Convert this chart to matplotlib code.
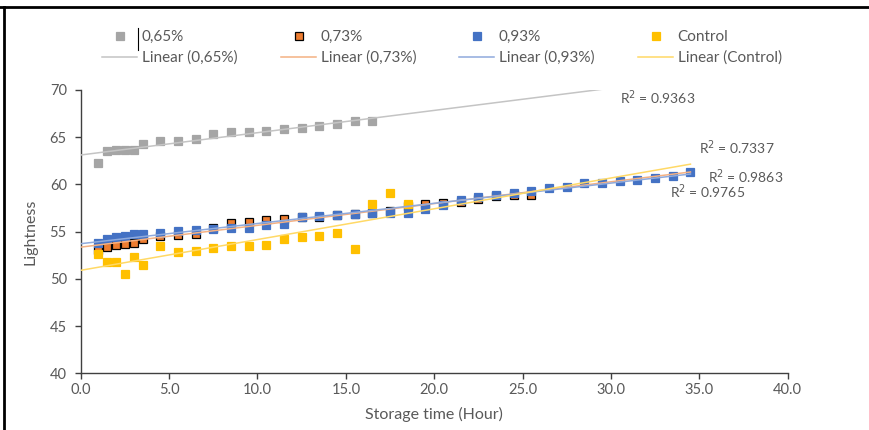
import numpy as np
import matplotlib
matplotlib.use("Agg")
import matplotlib.pyplot as plt
from matplotlib.lines import Line2D
from matplotlib.ticker import FormatStrFormatter, MultipleLocator

plt.rcParams['font.family'] = ['Lato', 'DejaVu Sans']

# storage time (hour) and lightness
x_065 = [1.0, 1.5, 2.0, 2.5, 3.0, 3.5, 4.5, 5.5, 6.5, 7.5, 8.5, 9.5, 10.5, 11.5,
         12.5, 13.5, 14.5, 15.5, 16.5]
y_065 = [62.3, 63.5, 63.6, 63.6, 63.6, 64.3, 64.6, 64.6, 64.8, 65.3, 65.5, 65.55,
         65.65, 65.85, 65.95, 66.2, 66.35, 66.7, 66.7]

x_073 = [1.0, 1.5, 2.0, 2.5, 3.0, 3.5, 4.5, 5.5, 6.5, 7.5, 8.5, 9.5, 10.5, 11.5,
         12.5, 13.5, 14.5, 15.5, 16.5, 17.5, 18.5, 19.5, 20.5, 21.5, 22.5, 23.5,
         24.5, 25.5]
y_073 = [53.1, 53.4, 53.55, 53.7, 53.8, 54.2, 54.55, 54.6, 54.75, 55.35, 55.95,
         56.05, 56.2, 56.3, 56.5, 56.6, 56.8, 56.9, 57.0, 57.2, 57.7, 57.9, 58.0,
         58.1, 58.5, 58.8, 58.9, 58.9]

x_093 = [1.0, 1.5, 2.0, 2.5, 3.0, 3.5, 4.5, 5.5, 6.5, 7.5, 8.5, 9.5, 10.5, 11.5,
         12.5, 13.5, 14.5, 15.5, 16.5, 17.5, 18.5, 19.5, 20.5, 21.5, 22.5, 23.5,
         24.5, 25.5, 26.5, 27.5, 28.5, 29.5, 30.5, 31.5, 32.5, 33.5, 34.5]
y_093 = [53.8, 54.2, 54.4, 54.5, 54.7, 54.8, 54.9, 55.1, 55.2, 55.3, 55.4, 55.4,
         55.7, 55.8, 56.5, 56.7, 56.8, 56.9, 57.0, 57.0, 57.0, 57.35, 57.8, 58.3,
         58.7, 58.9, 59.1, 59.3, 59.6, 59.75, 60.1, 60.2, 60.35, 60.5, 60.7, 60.9,
         61.3]

x_ctrl = [1.0, 1.5, 2.0, 2.5, 3.0, 3.5, 4.5, 5.5, 6.5, 7.5, 8.5, 9.5, 10.5, 11.5,
          12.5, 13.5, 14.5, 15.5, 16.5, 17.5, 18.5]
y_ctrl = [52.6, 51.8, 51.8, 50.5, 52.3, 51.45, 53.5, 52.8, 52.9, 53.3, 53.5, 53.5,
          53.6, 54.2, 54.4, 54.55, 54.85, 53.2, 57.9, 59.05, 57.9]

names = ["0,65%", "0,73%", "0,93%", "Control"]
r2_text = ["R$^2$ = 0.9363", "R$^2$ = 0.9765", "R$^2$ = 0.9863", "R$^2$ = 0.7337"]
r2_pos = [(30.5, 69.2), (33.35, 59.25), (35.5, 60.85), (35.0, 63.85)]

cols = ["#A5A5A5", "#ED7D31", "#4472C4", "#FFC000"]
line_cols = ["#C4C4C4", "#F4B183", "#8FAADC", "#FFD966"]
edges = ["#A5A5A5", "#000000", "#4472C4", "#FFC000"]

xs = [x_065, x_073, x_093, x_ctrl]
ys = [y_065, y_073, y_093, y_ctrl]

fig = plt.figure(figsize=(8.69, 4.30), dpi=100)
ax = fig.add_axes([0.0929, 0.1319, 0.8135, 0.6588])

x_end = max(x_093)
for i in range(4):
    ax.plot(xs[i], ys[i], ls="none", marker="s", ms=5.8, mfc=cols[i],
            mec=edges[i], mew=0.9, zorder=3)
for i in range(4):
    k, b = np.polyfit(xs[i], ys[i], 1)
    tx = np.array([0, x_end])
    ax.plot(tx, k * tx + b, color=line_cols[i], lw=1.1, zorder=4)

for t, (px, py) in zip(r2_text, r2_pos):
    ax.text(px, py, t, fontsize=10, color="#595959", ha="left", va="center",
            clip_on=False)

ax.set_xlim(0, 40)
ax.set_ylim(40, 70)
ax.xaxis.set_major_locator(MultipleLocator(5))
ax.yaxis.set_major_locator(MultipleLocator(5))
ax.xaxis.set_major_formatter(FormatStrFormatter("%.1f"))
for s in ["top", "right"]:
    ax.spines[s].set_visible(False)
for s in ["left", "bottom"]:
    ax.spines[s].set_color("#404040")
    ax.spines[s].set_linewidth(1.0)
ax.tick_params(axis="both", colors="#404040", labelcolor="#595959",
               labelsize=10.5, length=4, width=1.0)
ax.tick_params(axis="y", pad=6)
ax.tick_params(axis="x", pad=3)
ax.set_xlabel("Storage time (Hour)", fontsize=11.5, color="#595959", labelpad=7)
ax.set_ylabel("Lightness", fontsize=11.5, color="#595959", labelpad=9)

# legend: one small legend per column, marker row above trendline row
leg_x = [102, 281, 459, 638]
for i in range(4):
    h = [Line2D([], [], ls="none", marker="s", ms=5.8, mfc=cols[i], mec=edges[i], mew=0.9),
         Line2D([], [], color=line_cols[i], lw=1.1)]
    lg = fig.legend(h, [names[i], "Linear (" + names[i] + ")"],
                    loc="upper left", bbox_to_anchor=(leg_x[i] / 869, 1 - 30 / 430),
                    frameon=False, fontsize=11, handlelength=2.3, handletextpad=0.3,
                    borderpad=0, borderaxespad=0, labelspacing=0.45)
    for t in lg.get_texts():
        t.set_color("#595959")

# chart frame (top and left edge) and the stray cursor mark in the legend
fig.add_artist(Line2D([0, 1], [1 - 7 / 430, 1 - 7 / 430], color="black", lw=2))
fig.add_artist(Line2D([4 / 869, 4 / 869], [0, 1 - 7 / 430], color="black", lw=2))
fig.add_artist(Line2D([138 / 869, 138 / 869], [1 - 28 / 430, 1 - 50 / 430],
                      color="black", lw=0.8))

fig.savefig("out.png", dpi=100)
